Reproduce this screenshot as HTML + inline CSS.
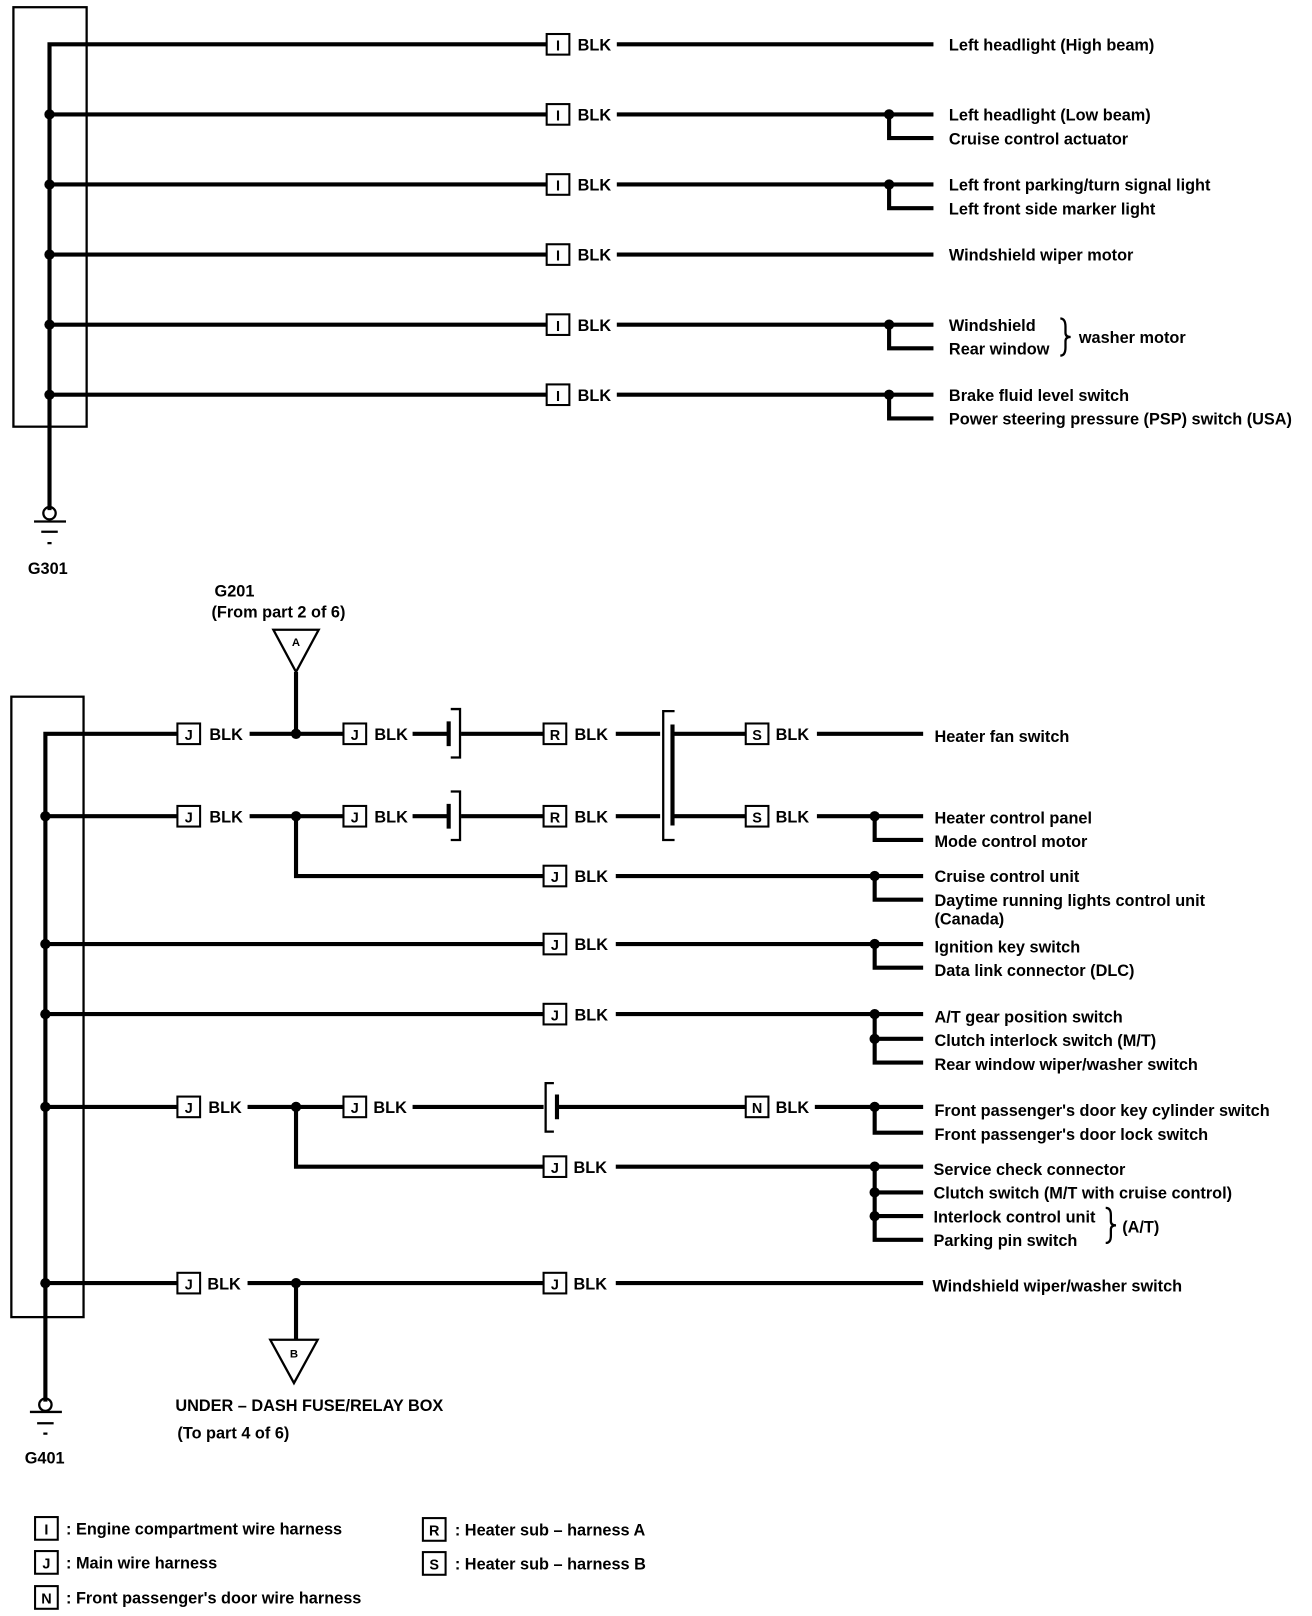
<!DOCTYPE html>
<html><head><meta charset="utf-8"><style>
html,body{margin:0;padding:0;background:#fff;}
svg{display:block;}
text{font-family:"Liberation Sans",sans-serif;font-weight:bold;font-size:15.8px;fill:#000;letter-spacing:0px;}
.c{font-size:14px;letter-spacing:0;}
</style></head><body>
<svg width="1312" height="1616" viewBox="0 0 1272 1568" preserveAspectRatio="none" xmlns="http://www.w3.org/2000/svg">
<g fill="none" stroke="#000" stroke-width="2.2">
<rect x="13" y="7" width="71" height="407"/>
<rect x="11" y="676" width="70" height="602"/>
</g>
<g fill="none" stroke="#000" stroke-width="4">
<path d="M48 495 V43 H530"/>
<path d="M48 111 H530 M48 179 H530 M48 247 H530 M48 315 H530 M48 383 H530"/>
<path d="M598 43 H905 M598 111 H905 M598 179 H905 M598 247 H905 M598 315 H905 M598 383 H905"/>
<path d="M862 111 V134 H905 M862 179 V202 H905 M862 315 V338 H905 M862 383 V406 H905"/>
<path d="M44 1360 V712 H172"/>
<path d="M44 792 H172 M44 916 H527 M44 984 H527 M44 1074 H172 M44 1245 H172"/>
<path d="M242 712 H333 M287 652 V712"/>
<path d="M242 792 H333 M287 792 V850 H527"/>
<path d="M240 1074 H333 M287 1074 V1132 H527"/>
<path d="M240 1245 H527 M287 1245 V1300"/>
<path d="M400 712 H435 M447 712 H527 M400 792 H435 M447 792 H527"/>
<path d="M597 712 H640 M652 712 H723 M597 792 H640 M652 792 H723"/>
<path d="M400 1074 H527 M540 1074 H723"/>
<path d="M792 712 H895 M792 792 H895 M597 850 H895 M597 916 H895 M597 984 H895 M790 1074 H895 M597 1132 H895 M597 1245 H895"/>
<path d="M848 792 V815 H895 M848 850 V873 H895 M848 916 V939 H895 M848 984 V1031 H895 M848 1008 H895 M848 1074 V1099 H895 M848 1132 V1203 H895 M848 1157 H895 M848 1180 H895"/>
<path d="M435 700 V724 M435 780 V804 M652 703 V801 M540 1062 V1086"/>
</g>
<g fill="none" stroke="#000" stroke-width="2.2">
<path d="M437 688 H446 V735 H437 M437 768 H446 V815 H437"/>
<path d="M654 690 H643 V815 H654"/>
<path d="M537 1051 H529 V1098 H537"/>
<circle cx="48" cy="498" r="6"/>
<path d="M33 506 H64 M40 516 H56 M46 527 H50"/>
<circle cx="44" cy="1363" r="6"/>
<path d="M29 1370 H60 M36 1381 H52 M42 1391 H46"/>
<path d="M265 611 H309 L287 652 Z"/>
<path d="M262 1300 H308 L285 1342 Z"/>
<path d="M1028 309 q5 0 5 8 v6 q0 4 5 4 q-5 0 -5 4 v6 q0 8 -5 8"/>
<path d="M1072 1172 q5 0 5 7 v6 q0 4 5 4 q-5 0 -5 4 v6 q0 7 -5 7"/>
</g>
<g fill="#000">
<circle cx="48" cy="111" r="5"/><circle cx="48" cy="179" r="5"/><circle cx="48" cy="247" r="5"/><circle cx="48" cy="315" r="5"/><circle cx="48" cy="383" r="5"/>
<circle cx="862" cy="111" r="5"/><circle cx="862" cy="179" r="5"/><circle cx="862" cy="315" r="5"/><circle cx="862" cy="383" r="5"/>
<circle cx="44" cy="792" r="5"/><circle cx="44" cy="916" r="5"/><circle cx="44" cy="984" r="5"/><circle cx="44" cy="1074" r="5"/><circle cx="44" cy="1245" r="5"/>
<circle cx="287" cy="712" r="5"/><circle cx="287" cy="792" r="5"/><circle cx="287" cy="1074" r="5"/><circle cx="287" cy="1245" r="5"/>
<circle cx="848" cy="792" r="5"/><circle cx="848" cy="850" r="5"/><circle cx="848" cy="916" r="5"/><circle cx="848" cy="984" r="5"/><circle cx="848" cy="1008" r="5"/><circle cx="848" cy="1074" r="5"/><circle cx="848" cy="1132" r="5"/><circle cx="848" cy="1157" r="5"/><circle cx="848" cy="1180" r="5"/>
</g>
<g fill="#fff" stroke="#000" stroke-width="2">
<rect x="530" y="33" width="22" height="20"/><rect x="530" y="101" width="22" height="20"/><rect x="530" y="169" width="22" height="20"/><rect x="530" y="237" width="22" height="20"/><rect x="530" y="305" width="22" height="20"/><rect x="530" y="373" width="22" height="20"/>
<rect x="172" y="702" width="22" height="20"/><rect x="333" y="702" width="22" height="20"/><rect x="527" y="702" width="22" height="20"/><rect x="723" y="702" width="22" height="20"/>
<rect x="172" y="782" width="22" height="20"/><rect x="333" y="782" width="22" height="20"/><rect x="527" y="782" width="22" height="20"/><rect x="723" y="782" width="22" height="20"/>
<rect x="527" y="840" width="22" height="20"/><rect x="527" y="906" width="22" height="20"/><rect x="527" y="974" width="22" height="20"/>
<rect x="172" y="1064" width="22" height="20"/><rect x="333" y="1064" width="22" height="20"/><rect x="723" y="1064" width="22" height="20"/>
<rect x="527" y="1122" width="22" height="20"/><rect x="172" y="1235" width="22" height="20"/><rect x="527" y="1235" width="22" height="20"/>
<rect x="34" y="1472" width="22" height="22"/><rect x="34" y="1505" width="22" height="22"/><rect x="34" y="1539" width="22" height="22"/>
<rect x="410" y="1473" width="22" height="22"/><rect x="410" y="1506" width="22" height="22"/>
</g>
<g text-anchor="middle" class="c">
<text class="c" x="541" y="49">I</text><text class="c" x="541" y="117">I</text><text class="c" x="541" y="185">I</text><text class="c" x="541" y="253">I</text><text class="c" x="541" y="321">I</text><text class="c" x="541" y="389">I</text>
<text class="c" x="183" y="718">J</text><text class="c" x="344" y="718">J</text><text class="c" x="538" y="718">R</text><text class="c" x="734" y="718">S</text>
<text class="c" x="183" y="798">J</text><text class="c" x="344" y="798">J</text><text class="c" x="538" y="798">R</text><text class="c" x="734" y="798">S</text>
<text class="c" x="538" y="856">J</text><text class="c" x="538" y="922">J</text><text class="c" x="538" y="990">J</text>
<text class="c" x="183" y="1080">J</text><text class="c" x="344" y="1080">J</text><text class="c" x="734" y="1080">N</text>
<text class="c" x="538" y="1138">J</text><text class="c" x="183" y="1251">J</text><text class="c" x="538" y="1251">J</text>
<text class="c" x="45" y="1489">I</text><text class="c" x="45" y="1522">J</text><text class="c" x="45" y="1556">N</text>
<text class="c" x="421" y="1490">R</text><text class="c" x="421" y="1523">S</text>
<text class="c" x="287" y="627" style="font-size:11px">A</text>
<text class="c" x="285" y="1317" style="font-size:11px">B</text>
</g>
<g>
<text x="560" y="49">BLK</text><text x="560" y="117">BLK</text><text x="560" y="185">BLK</text><text x="560" y="253">BLK</text><text x="560" y="321">BLK</text><text x="560" y="389">BLK</text>
<text x="203" y="718">BLK</text><text x="363" y="718">BLK</text><text x="557" y="718">BLK</text><text x="752" y="718">BLK</text>
<text x="203" y="798">BLK</text><text x="363" y="798">BLK</text><text x="557" y="798">BLK</text><text x="752" y="798">BLK</text>
<text x="557" y="856">BLK</text><text x="557" y="922">BLK</text><text x="557" y="990">BLK</text>
<text x="202" y="1080">BLK</text><text x="362" y="1080">BLK</text><text x="752" y="1080">BLK</text>
<text x="556" y="1138">BLK</text><text x="201" y="1251">BLK</text><text x="556" y="1251">BLK</text>

<text x="920" y="49">Left headlight (High beam)</text>
<text x="920" y="117">Left headlight (Low beam)</text>
<text x="920" y="140">Cruise control actuator</text>
<text x="920" y="185">Left front parking/turn signal light</text>
<text x="920" y="208">Left front side marker light</text>
<text x="920" y="253">Windshield wiper motor</text>
<text x="920" y="321">Windshield</text>
<text x="920" y="344">Rear window</text>
<text x="1046" y="333">washer motor</text>
<text x="920" y="389">Brake fluid level switch</text>
<text x="920" y="412">Power steering pressure (PSP) switch (USA)</text>
<text x="27" y="557">G301</text>

<text x="208" y="579">G201</text>
<text x="205" y="599">(From part 2 of 6)</text>
<text x="906" y="720">Heater fan switch</text>
<text x="906" y="799">Heater control panel</text>
<text x="906" y="822">Mode control motor</text>
<text x="906" y="856">Cruise control unit</text>
<text x="906" y="879">Daytime running lights control unit</text>
<text x="906" y="897">(Canada)</text>
<text x="906" y="924">Ignition key switch</text>
<text x="906" y="947">Data link connector (DLC)</text>
<text x="906" y="992">A/T gear position switch</text>
<text x="906" y="1015">Clutch interlock switch (M/T)</text>
<text x="906" y="1038">Rear window wiper/washer switch</text>
<text x="906" y="1083">Front passenger's door key cylinder switch</text>
<text x="906" y="1106">Front passenger's door lock switch</text>
<text x="905" y="1140">Service check connector</text>
<text x="905" y="1163">Clutch switch (M/T with cruise control)</text>
<text x="905" y="1186">Interlock control unit</text>
<text x="905" y="1209">Parking pin switch</text>
<text x="1088" y="1196">(A/T)</text>
<text x="904" y="1253">Windshield wiper/washer switch</text>
<text x="170" y="1369">UNDER – DASH FUSE/RELAY BOX</text>
<text x="172" y="1396">(To part 4 of 6)</text>
<text x="24" y="1420">G401</text>

<text x="64" y="1489">:  Engine compartment wire harness</text>
<text x="64" y="1522">:  Main wire harness</text>
<text x="64" y="1556">:  Front passenger's door wire harness</text>
<text x="441" y="1490">:  Heater sub – harness A</text>
<text x="441" y="1523">:  Heater sub – harness B</text>
</g>
</svg>
</body></html>
